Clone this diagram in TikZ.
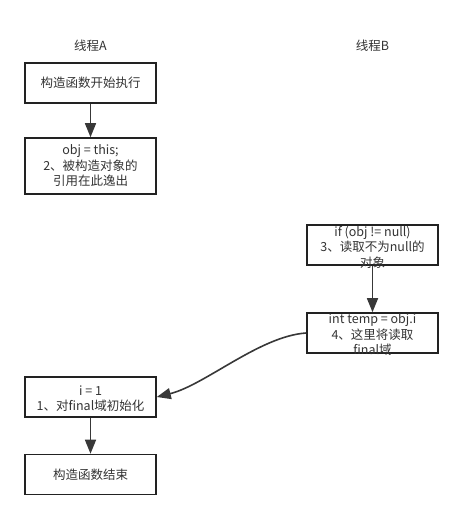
\documentclass[tikz,border=0pt]{standalone}
\usepackage{fontspec}
\setmainfont{Noto Sans CJK SC}
\usetikzlibrary{arrows.meta}
\definecolor{ink}{HTML}{222222}
\definecolor{txtc}{HTML}{333333}
\tikzset{
  box/.style={draw=ink, line width=1.6pt, minimum width=131pt, minimum height=40pt, inner sep=0pt},
  txt/.style={align=center, text=txtc, inner sep=0pt, font=\fontsize{12.5}{15.5}\selectfont},
  conn/.style={draw=ink!90, line width=1.6pt, -{Triangle[length=14pt,width=11pt]}},
}
\begin{document}
\begin{tikzpicture}[x=1pt,y=-1pt]
\useasboundingbox (0,0) rectangle (463,519);
\node[txt] (la) at (90.5,46) {线程A};
\node[txt] (lb) at (372.5,46) {线程B};
\node[box] (a1) at (90.5,83) {};
\node[txt] (a1t) at (a1) {构造函数开始执行};
\node[box, minimum height=56pt] (a2) at (90.5,166) {};
\node[txt] (a2t) at (a2) {obj = this;\\2、被构造对象的\\引用在此逸出};
\node[box] (b1) at (372.5,245) {};
\node[txt] (b1t) at (372.5,247) {if (obj != null)\\3、读取不为null的\\对象};
\node[box] (b2) at (372.5,333) {};
\node[txt] (b2t) at (372.5,335) {int temp = obj.i\\4、这里将读取\\final域};
\node[box] (a3) at (90.5,397) {};
\node[txt] (a3t) at (90.5,398.5) {i = 1\\1、对final域初始化};
\node[box] (a4) at (90.5,474.5) {};
\node[txt] (a4t) at (a4) {构造函数结束};
\draw[conn] (a1) -- (a2);
\draw[conn] (b1) -- (b2);
\draw[conn] (a3) -- (a4);
\draw[conn] (b2.west) .. controls (260,336) and (205,385) .. (a3.east);
\end{tikzpicture}
\end{document}
